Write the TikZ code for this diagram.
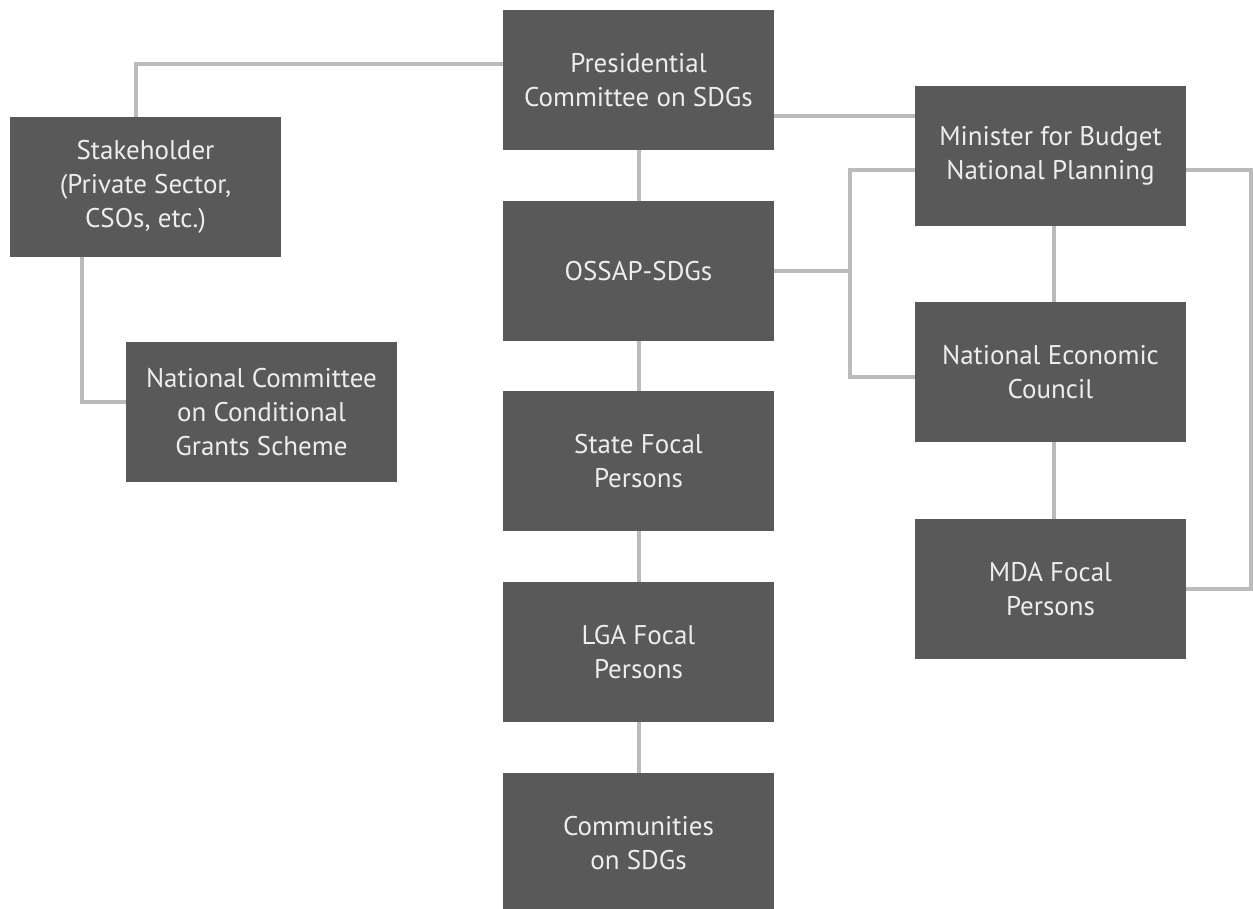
\documentclass[tikz,border=0pt]{standalone}
\usepackage{fontspec}
\setmainfont{PT Sans}
\usetikzlibrary{positioning, calc}

\definecolor{boxgrey}{HTML}{595959}
\definecolor{linkgrey}{HTML}{BBBBBB}
\definecolor{labelgrey}{HTML}{EDEDED}

\begin{document}
\begin{tikzpicture}[
  font=\fontsize{13.5}{17}\selectfont,
  unit/.style={rectangle, fill=boxgrey, text=labelgrey, align=center,
               minimum width=135.5pt, minimum height=70pt, inner sep=2pt, outer sep=0pt},
  link/.style={draw=linkgrey, line width=2pt},
]
\clip (0,0) rectangle (626.5pt,454.5pt);

% main column
\node[unit] (pres) at (319.25pt,414.5pt) {Presidential\\Committee on SDGs};
\node[unit, below=25.5pt of pres] (ossap) {OSSAP-SDGs};
\node[unit, below=25pt of ossap] (state) {State Focal\\Persons};
\node[unit, below=25.5pt of state] (lga) {LGA Focal\\Persons};
\node[unit, below=25.5pt of lga] (comm) {Communities\\on SDGs};

% left side
\node[unit] (stake) at (72.75pt,361pt) {Stakeholder\\(Private Sector,\\CSOs, etc.)};
\node[unit] (ncg) at (130.75pt,248.5pt) {National Committee\\on Conditional\\Grants Scheme};

% right column
\node[unit] (mbnp) at (525.25pt,376.5pt) {Minister for Budget\\National Planning};
\node[unit, below=38pt of mbnp] (nec) {National Economic\\Council};
\node[unit, below=38.5pt of nec] (mda) {MDA Focal\\Persons};

\coordinate (fork) at ([xshift=38pt]ossap.east);
\coordinate (rim) at ([xshift=32.5pt]mbnp.east);

% links down the middle
\draw[link] (pres) -- (ossap);
\draw[link] (ossap) -- (state);
\draw[link] (state) -- (lga);
\draw[link] (lga) -- (comm);

% stakeholder branch
\draw[link] ([yshift=8pt]pres.west) -| ([xshift=-4.75pt]stake.north);
\draw[link] ([xshift=-31.75pt]stake.south) |- ([yshift=5pt]ncg.west);

% to the ministry
\draw[link] ([yshift=-18pt]pres.east) -- ([yshift=-18pt]pres.east -| mbnp.west);
\draw[link] (ossap.east) -- (fork);
\draw[link] ([yshift=-7pt]mbnp.west) -| (fork) |- ([yshift=-2.5pt]nec.west);
\draw[link] ([xshift=1.75pt]mbnp.south) -- ([xshift=1.75pt]nec.north);
\draw[link] ([xshift=1.75pt]nec.south) -- ([xshift=1.75pt]mda.north);
\draw[link] ([yshift=-7pt]mbnp.east) -- ([yshift=-7pt]mbnp.east -| rim) |- (mda.east);
\end{tikzpicture}
\end{document}
